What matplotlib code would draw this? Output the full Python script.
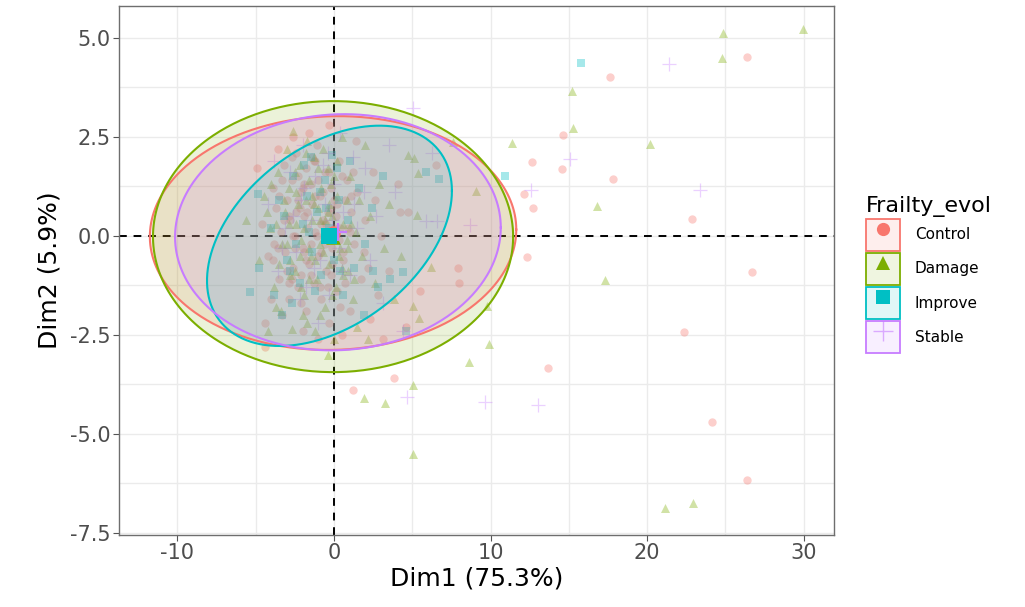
import numpy as np
import matplotlib
matplotlib.use("Agg")
import matplotlib.pyplot as plt
from matplotlib.patches import Patch, Polygon
from matplotlib.lines import Line2D

plt.rcParams["axes.unicode_minus"] = False

# ---- individuals on the first two principal components ----
groups = ["Control", "Damage", "Improve", "Stable"]
colors = ["#F8766D", "#7CAE00", "#00BFC4", "#C77CFF"]
markers = ["o", "^", "s", "+"]

control_x = [-4.6, -4.2, -3.9, -3.7, -3.5, -3.4, -3.2, -3.1, -3.0, -2.9, -2.8, -2.7, -2.6, -2.5,
             -2.4, -2.3, -2.2, -2.1, -2.0, -1.9, -1.8, -1.8, -1.7, -1.6, -1.5, -1.4, -1.3, -1.2,
             -1.1, -1.0, -0.9, -0.8, -0.7, -0.6, -0.5, -0.4, -0.3, -0.2, -0.1, 0.0, 0.2, 0.3,
             0.4, 0.6, 0.8, 1.0, 1.1, 1.3, 1.5, 1.7, 2.0, 2.2, 2.5, 2.8, 3.0, -3.3, -2.0, -1.0,
             0.5, -4.0, -4.9, -4.4, -4.4, 1.2, 3.8, -2.6, -1.6, -0.3, 1.4, -3.6, -2.9, -2.3,
             -1.5, -0.8, -2.1, -1.2, 0.7, -0.2, -3.8, 1.9, 2.6, 3.5, 4.2, 4.7, 4.1, 6.5, 5.5,
             7.9, 8.0, 2.3, 3.1, 4.6,
             -3.9, -3.5, -3.2, -2.9, -2.7, -2.5, -2.3, -2.1, -1.9, -1.7, -1.5, -1.3, -1.1, -0.9,
             -0.7, -0.5, -0.3, -0.1, 0.1, 0.3, 0.5, 0.7, 0.9, 1.1, -3.6, -3.0, -2.4, -1.8, -1.2,
             -0.6, 0.0, 0.6, 1.2, -2.7, -2.0, -1.4, -0.8, -0.2, 0.4, 1.0, -3.3, -2.6, -1.9, -1.0,
             -0.4, 0.2,
             12.3, 13.67, 14.6, 12.64, 14.56, 12.13, 12.7, 26.4, 17.6, 17.8, 22.86, 26.7,
             22.35, 24.14, 26.37]
control_y = [0.3, -0.5, 1.2, 0.7, -1.1, 0.1, 1.8, -0.4, 0.9, -1.6, 0.4, 1.4, -0.8, 0.0,
             2.1, -1.3, 0.7, 1.1, -0.3, 0.5, 1.7, -1.9, 0.2, -0.7, 1.3, 0.8, -1.2, 0.1,
             2.3, -0.5, 1.0, -1.6, 0.4, 1.6, -0.9, 0.6, -2.2, 1.2, -0.3, 0.9, -1.4, 1.9,
             0.2, -0.6, 1.4, -1.9, 0.6, -0.2, 1.1, -1.1, 0.4, -0.8, 1.6, -1.5, 0.0, -2.0, -2.4, -2.6,
             -2.5, -1.6, 1.7, -2.2, -2.8, -3.9, -3.6, 2.5, 2.6, 2.8, 2.4, 2.2, 0.5, 1.5,
             -0.2, 0.3, -1.0, 1.9, 0.9, -1.0, -0.2, -0.4, 0.9, -0.9, 0.6, 0.6, 1.3, 1.8, -1.4,
             -0.8, -1.2, -2.1, -2.6, -2.3,
             -0.6, 1.0, 0.4, -1.2, 2.0, -0.3, 0.9, -1.7, 1.3, 0.6, -1.0, 1.9, 0.0, -1.3,
             1.1, 0.3, 1.6, -0.7, 0.5, -0.1, 1.5, -1.2, 0.2, 1.0, -0.3, -0.9, 0.6, -0.6, 1.0,
             -0.2, 0.2, -0.4, 1.6, -1.1, 1.2, 2.0, -0.4, 0.7, -1.8, 0.1, 1.4, 0.0, -0.4, 1.4,
             -1.3, 0.8,
             -0.53, -3.34, 2.54, 1.86, 1.68, 1.05, 0.7, 4.51, 4.01, 1.43, 0.42, -0.91,
             -2.43, -4.7, -6.16]

damage_x = [-5.6, -4.8, -4.5, -4.1, -3.8, -3.6, -3.3, -3.1, -2.9, -2.7, -2.6, -2.5, -2.4, -2.2,
            -2.1, -1.9, -1.8, -1.6, -1.5, -1.4, -1.3, -1.1, -1.0, -0.9, -0.8, -0.6, -0.5, -0.4,
            -0.3, -0.1, 0.1, 0.2, 0.4, 0.5, 0.6, 0.9, 1.0, 1.2, 1.4, 1.6, 1.8, 2.0, 2.3, 2.6,
            2.9, 3.2, 3.5, -3.4, -2.0, -1.2, 0.0, 1.5, -4.2, -3.0, -1.7, -0.7, 4.7, 5.1, 5.36,
            5.3, 6.2, 5.04, 5.43, -2.3, -1.6, -0.9, -2.8, -0.2, 0.8, -3.7, 3.8, 4.3, 2.2, -0.4,
            -4.0, -3.5, -3.2, -2.8, -2.5, -2.2, -1.9, -1.6, -1.3, -1.0, -0.7, -0.4, -0.1, 0.2,
            0.5, 0.8, 1.1, -3.7, -3.0, -2.4, -1.8, -1.2, -0.6, 0.0, 0.6, -2.9, -2.1, -1.4, -0.9,
            -0.3, 0.3, 1.3, -4.3, -1.7, 0.9,
            29.95, 24.84, 24.77, 15.2, 15.26, 11.37, 20.2, 16.8, 17.3, 9.9, 8.62, 9.77, 5.04,
            1.92, 3.26, 5.04, 21.14, 22.9, 7.6, 9.07]
damage_y = [0.4, -0.6, 1.0, 0.2, -1.3, 1.6, -0.2, 0.6, 1.2, -2.35, 2.65, -0.9, 0.3, 1.8,
            -0.1, -1.5, 0.9, 1.4, -0.5, 0.4, 2.0, -1.1, 0.7, -0.2, 1.2, -1.8, 0.1, 1.7,
            -0.7, 0.5, -1.3, 1.0, -0.3, 2.5, 0.3, -0.9, 1.5, -1.6, 0.1, 0.9, -0.5, 2.29, 0.5, -1.2,
            1.3, -0.3, 0.8, -1.9, -2.0, -2.4, -2.6, -2.3, -2.4, 2.2, 2.4, 2.2, 2.04, 1.96, 1.58,
            0.52, -0.78, -1.77, -2.07, 0.8, -0.3, 0.4, -0.6, 1.3, -0.1, 0.3, -1.6, -0.5, -2.6, -3.0,
            1.3, -0.7, 0.9, -1.0, 1.6, -0.5, 0.2, -1.1, 0.8, 1.7, -0.4, 0.6, -1.5, 1.9,
            -0.8, 0.9, 0.3, -1.8, -0.2, 1.1, 2.1, -0.6, 0.4, 1.5, -1.0, 0.3, -1.3, 1.0, -2.0,
            0.8, -0.5, -1.1, 0.6, -2.2, -0.3,
            5.22, 5.12, 4.49, 3.65, 2.72, 2.34, 2.32, 0.75, -1.12, -2.73, -3.18, -1.77, -3.77,
            -4.09, -4.23, -5.5, -6.87, -6.74, 2.37, 1.13]

improve_x = [-5.36, -3.3, -4.8, -4.85, -0.1, -4.0, -3.5, -3.0, -2.6, -2.2, -2.0, -1.7, -1.4, -1.1,
             -0.8, -0.6, -0.3, 0.0, 0.3, 0.6, 0.9, 1.3, 1.6, 2.0, 2.4, 2.8, 3.1, 4.4, 2.5, 3.6,
             5.87, 6.7, 10.9, 15.77, -2.7, -1.5, 0.2, -3.8, 4.6, 1.9,
             -3.2, -2.4, -1.9, -1.2, -0.5, 0.4, 1.0, -2.8, -1.6, -0.9]
improve_y = [-1.42, -2.0, -0.81, 1.05, 2.04, 0.2, 0.9, -0.6, 1.5, -1.2, 0.3, 1.0, -0.4, 0.6,
             -1.0, 1.4, 0.2, -0.6, 0.9, -1.5, 0.4, -0.8, 1.2, -0.2, 0.7, -1.3, 1.5, -0.91, -0.9, -1.1,
             1.61, 1.43, 1.51, 4.36, -1.7, 2.0, 1.7, -1.5, -2.4, -2.0,
             0.5, -0.2, 1.8, -1.4, 0.7, -0.9, 1.9, -0.9, 0.1, 1.1]

stable_x = [-4.2, -3.6, -3.1, -2.8, -2.4, -2.1, -1.8, -1.5, -1.2, -0.9, -0.6, -0.3, 0.0, 0.3,
            0.6, 1.0, 1.2, 1.5, 1.9, 2.3, 2.7, 3.1, 3.9, 6.26, 5.05, 5.9, 6.6, 8.7, 4.4, 4.66,
            9.64, 13.0, 12.58, 15.07, 21.4, 23.4, -3.8, -2.0, 0.4, -1.0, 2.0, 3.5,
            -3.3, -2.6, -1.9, -1.3, -0.7, -0.1, 0.5, 1.3, -2.2, -0.4]
stable_y = [0.8, -0.9, 0.2, 1.6, -0.4, 0.9, -1.3, 0.4, 1.5, -0.6, 0.8, -1.5, 1.3, -0.3,
            0.6, -1.0, 2.0, 0.2, 1.1, -0.6, 0.5, -1.7, 1.1, 2.08, 3.22, 0.37, 0.37, 0.27, -2.4, -4.07,
            -4.2, -4.28, 1.16, 1.94, 4.33, 1.15, 1.9, 2.3, 2.6, -2.2, 1.7, 2.3,
            -0.3, 0.5, 1.2, -0.8, 1.8, 0.4, -0.9, 0.8, -1.6, 2.1]

# group centres (mean points) and concentration-ellipse parameters
mean_x = [-0.06, -0.06, -0.29, 0.25]
mean_y = [0.07, -0.02, 0.00, 0.09]
ell_ax = [11.7, 11.5, 7.82, 10.4]     # half-width along Dim1
ell_ay = [2.95, 3.42, 2.78, 2.98]     # half-height along Dim2
ell_tilt = [0.03, 0.0, 0.42, 0.04]    # phase shift giving the ellipse its slant

xs = [control_x, damage_x, improve_x, stable_x]
ys = [control_y, damage_y, improve_y, stable_y]

# ---- figure ----
W, H = 1025, 607
fig = plt.figure(figsize=(W / 100, H / 100), dpi=100)
ax = fig.add_axes([119 / W, 1 - 535 / H, (834 - 119) / W, (535 - 6) / H])
ax.set_xlim(-13.73, 31.93)
ax.set_ylim(-7.55, 5.8)

# grid (major + minor, all light grey)
ax.set_xticks([-10, 0, 10, 20, 30])
ax.set_yticks([-7.5, -5.0, -2.5, 0.0, 2.5, 5.0])
ax.set_yticklabels(["-7.5", "-5.0", "-2.5", "0.0", "2.5", "5.0"])
ax.set_xticks([-5, 5, 15, 25], minor=True)
ax.set_yticks([-6.25, -3.75, -1.25, 1.25, 3.75], minor=True)
ax.grid(True, which="both", color="#ebebeb", linewidth=1.0, zorder=0)
ax.set_axisbelow(True)
ax.tick_params(axis="both", which="minor", length=0)
ax.tick_params(axis="both", which="major", length=4, width=0.8, color="#555555",
               labelsize=15, labelcolor="#4d4d4d", pad=2)
for s in ax.spines.values():
    s.set_color("#6e6e6e")
    s.set_linewidth(1.0)

ax.axhline(0, color="black", linestyle=(0, (4, 3.5)), linewidth=1.4, zorder=1.5)
ax.axvline(0, color="black", linestyle=(0, (4, 3.5)), linewidth=1.4, zorder=1.5)

# individual points
for gx, gy, c, m in zip(xs, ys, colors, markers):
    if m == "+":
        ax.scatter(gx, gy, s=100, marker=m, color=c, alpha=0.35, linewidths=0.9, zorder=2)
    elif m == "^":
        ax.scatter(gx, gy, s=42, marker=m, color=c, alpha=0.35, linewidths=0, zorder=2)
    else:
        ax.scatter(gx, gy, s=36, marker=m, color=c, alpha=0.35, linewidths=0, zorder=2)

# concentration ellipses
t = np.linspace(0, 2 * np.pi, 400)
for cx, cy, a, b, ph, c in zip(mean_x, mean_y, ell_ax, ell_ay, ell_tilt, colors):
    ex = cx + a * np.cos(t)
    ey = cy + b * np.sin(t + ph)
    ax.add_patch(Polygon(np.column_stack([ex, ey]), closed=True, facecolor=c,
                         alpha=0.15, edgecolor="none", zorder=3))
    ax.plot(ex, ey, color=c, linewidth=1.5, zorder=3.2)

# group mean points
for mx, my, c, m in zip(mean_x, mean_y, colors, markers):
    if m == "+":
        ax.scatter([mx], [my], s=160, marker=m, color=c, linewidths=1.6, zorder=4)
    else:
        ax.scatter([mx], [my], s=110, marker=m, color=c, linewidths=0, zorder=4)
ax.scatter([mean_x[2]], [mean_y[2]], s=120, marker="s", color=colors[2], linewidths=0, zorder=4.5)

ax.set_xlabel("Dim1 (75.3%)", fontsize=18, labelpad=2)
ax.set_ylabel("Dim2 (5.9%)", fontsize=18, labelpad=6)

# legend
handles = []
for c, m in zip(colors, markers):
    box = Patch(facecolor=matplotlib.colors.to_rgba(c, 0.12), edgecolor=c, linewidth=1.3)
    if m == "+":
        mk = Line2D([], [], linestyle="none", marker=m, color=c, markersize=15,
                    markeredgewidth=1.0, alpha=0.6)
    else:
        mk = Line2D([], [], linestyle="none", marker=m, color=c, markersize=9.5,
                    markeredgewidth=0)
    handles.append((box, mk))
leg = fig.legend(handles, groups, loc="upper left", bbox_to_anchor=(860 / W, 1 - 190 / H),
                 frameon=False, fontsize=11, title="Frailty_evol", title_fontsize=16,
                 handlelength=2.2, handleheight=2.9, labelspacing=0.1, handletextpad=1.0,
                 borderaxespad=0)
leg._legend_box.align = "left"

fig.savefig("out.png", dpi=100)
